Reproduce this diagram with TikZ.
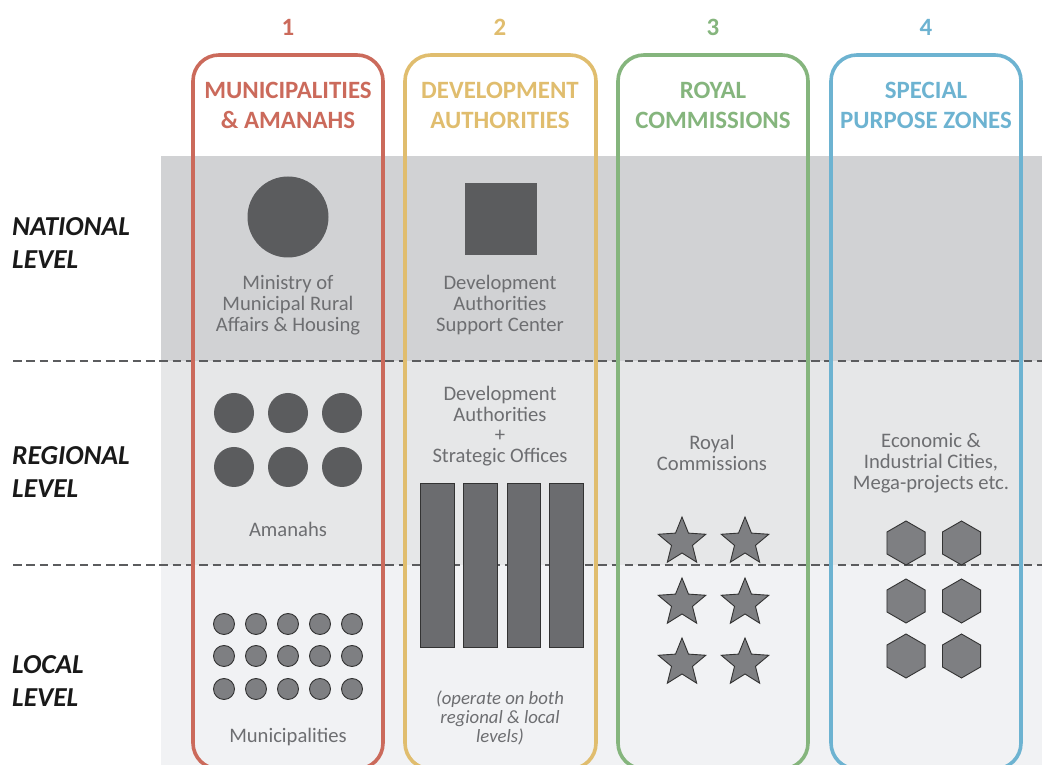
\documentclass[tikz,border=0pt]{standalone}
\usepackage{fontspec}
\setmainfont{Carlito}
\usetikzlibrary{calc}
\definecolor{cred}{HTML}{CB6A5B}
\definecolor{cyel}{HTML}{E0BD6E}
\definecolor{cgrn}{HTML}{85B57D}
\definecolor{cblu}{HTML}{6DB3D1}
\definecolor{bandA}{HTML}{D1D2D4}
\definecolor{bandB}{HTML}{E6E7E8}
\definecolor{bandC}{HTML}{F1F2F4}
\definecolor{dark}{HTML}{5B5C5E}
\definecolor{mid}{HTML}{6B6C6F}
\definecolor{light}{HTML}{7E7F82}
\definecolor{edge}{HTML}{333333}
\definecolor{txt}{HTML}{6D6E71}
\begin{document}
\begin{tikzpicture}[x=1bp,y=1bp,
  colbox/.style={line width=3.6bp, rounded corners=26bp},
  numlbl/.style={font=\fontsize{25}{28}\selectfont\bfseries, text=#1},
  headlbl/.style={font=\fontsize{25}{30}\selectfont\bfseries, text=#1, align=center},
  levellbl/.style={font=\fontsize{27.5}{33}\selectfont\bfseries\itshape, align=left, anchor=west, inner sep=0pt, text=black!90},
  body/.style={font=\fontsize{20.7}{20.8}\selectfont, text=txt, align=center},
  note/.style={font=\fontsize{18.8}{19}\selectfont\itshape, text=txt, align=center},
  levelline/.style={dashed, dash pattern=on 8.5bp off 4.8bp, draw=dark, line width=1.2bp},
  bigshape/.style={fill=dark, draw=none},
  bar/.style={fill=mid, draw=edge, line width=0.9bp},
  smallshape/.style={fill=light, draw=edge, line width=0.9bp}
]
\useasboundingbox (0,0) rectangle (1042,765);
\clip (0,0) rectangle (1042,765);
% bands
\fill[bandA] (161,404) rectangle (1042,609);
\fill[bandB] (161,200) rectangle (1042,404);
\fill[bandC] (161,0) rectangle (1042,200);
% level lines
\coordinate (l1a) at (13,404); \coordinate (l1b) at (1042,404);
\coordinate (l2a) at (13,200); \coordinate (l2b) at (1042,200);
\draw[levelline] (l1a) -- (l1b);
\draw[levelline] (l2a) -- (l2b);
% level labels
\node[levellbl] (natl) at (12,522) {NATIONAL\\LEVEL};
\node[levellbl] (regl) at (12,293) {REGIONAL\\LEVEL};
\node[levellbl] (locl) at (12,84) {LOCAL\\LEVEL};
% numbers
\node[numlbl=cred] (n1) at (288,738) {1};
\node[numlbl=cyel] (n2) at (500,738) {2};
\node[numlbl=cgrn] (n3) at (713,738) {3};
\node[numlbl=cblu] (n4) at (926,738) {4};
% headers
\node[headlbl=cred] (h1) at (288,660) {MUNICIPALITIES\\\& AMANAHS};
\node[headlbl=cyel] (h2) at (500,660) {DEVELOPMENT\\AUTHORITIES};
\node[headlbl=cgrn] (h3) at (713,660) {ROYAL\\COMMISSIONS};
\node[headlbl=cblu] (h4) at (926,660) {SPECIAL\\PURPOSE ZONES};
% column 1 content
\fill[bigshape] (288,548) circle (40.5);
\node[body] (min) at (288,460) {Ministry of\\Municipal Rural\\Affairs \& Housing};
\foreach \x in {234,288,342}{\foreach \y in {352,298}{\fill[bigshape] (\x,\y) circle (20);}}
\node[body] (aman) at (288,236) {Amanahs};
\foreach \x in {224,256,288,320,352}{\foreach \y in {141,109,76}{\draw[smallshape] (\x,\y) circle (10.5);}}
\node[body] (muni) at (288,28) {Municipalities};
% column 2 content
\fill[bigshape] (465,510) rectangle (537,582);
\node[body] (dasc) at (500,460) {Development\\Authorities\\Support Center};
\node[body] (daso) at (500,339) {Development\\Authorities\\+\\Strategic Offices};
\foreach \x/\w in {420.5/454, 463.5/497, 507/540.5, 549.5/583}{\draw[bar] (\x,118) rectangle (\w,282);}
\node[note] (op) at (500,47) {(operate on both\\regional \& local\\levels)};
% column 3 content
\node[body] (rc) at (712,312) {Royal\\Commissions};
\foreach \x in {682,745}{\foreach \y in {223,162,102}{
  \draw[smallshape, line join=miter]
    ($(\x,\y)+(90:25)$) -- ($(\x,\y)+(126:11)$) -- ($(\x,\y)+(162:25)$) -- ($(\x,\y)+(198:11)$) --
    ($(\x,\y)+(234:25)$) -- ($(\x,\y)+(270:11)$) -- ($(\x,\y)+(306:25)$) -- ($(\x,\y)+(342:11)$) --
    ($(\x,\y)+(18:25)$) -- ($(\x,\y)+(54:11)$) -- cycle;}}
% column 4 content
\node[body] (eco) at (931,302) {Economic \&\\Industrial Cities,\\Mega-projects etc.};
\foreach \x in {906,961.5}{\foreach \y in {222,164,109}{
  \draw[smallshape]
    ($(\x,\y)+(90:22)$) -- ($(\x,\y)+(150:22)$) -- ($(\x,\y)+(210:22)$) --
    ($(\x,\y)+(270:22)$) -- ($(\x,\y)+(330:22)$) -- ($(\x,\y)+(30:22)$) -- cycle;}}
% column boxes
\draw[colbox, draw=cred] (193,-4) rectangle (383,710);
\draw[colbox, draw=cyel] (405,-4) rectangle (596,710);
\draw[colbox, draw=cgrn] (618,-4) rectangle (808,710);
\draw[colbox, draw=cblu] (831,-4) rectangle (1021,710);
\end{tikzpicture}
\end{document}
